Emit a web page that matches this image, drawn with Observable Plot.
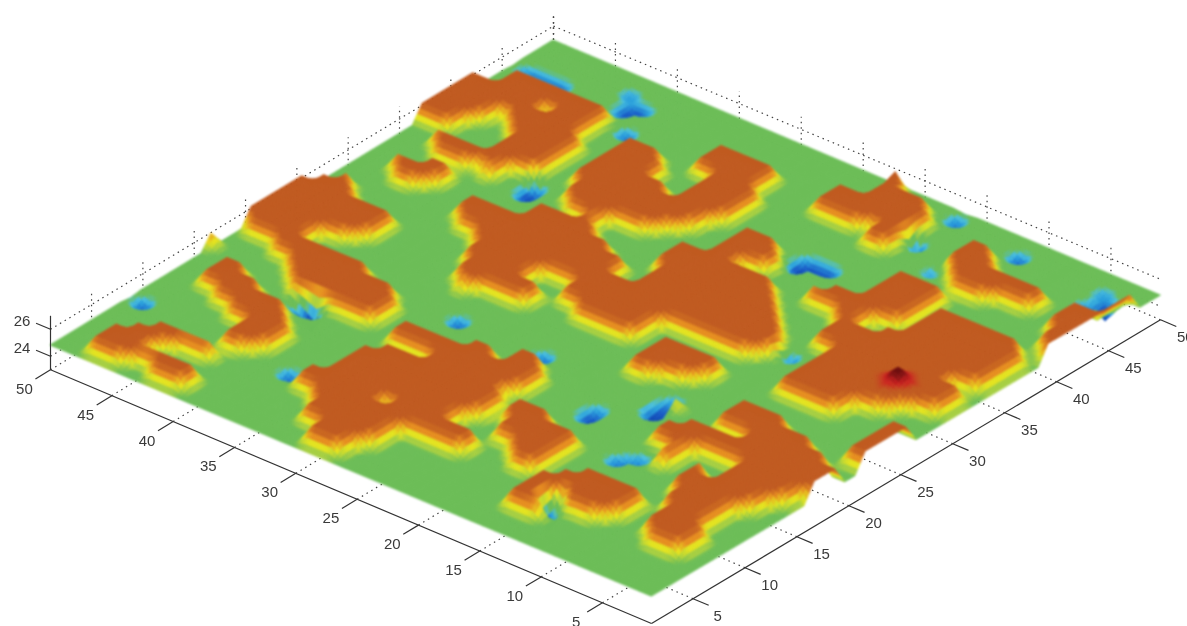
<!DOCTYPE html>
<html><head><meta charset="utf-8">
<style>html,body{margin:0;padding:0;background:#fff;overflow:hidden}svg{display:block;filter:blur(.5px)}</style>
<script src="https://cdn.jsdelivr.net/npm/d3@7"></script>
<script src="https://cdn.jsdelivr.net/npm/@observablehq/plot@0.6"></script>
</head><body><div id="chart"></div>
<script>
// surface heights: index = row u, ranges of columns v at plateau level
const plateauRows = [
"16-18 21-25 39-47","14-18 21-25 29-31 33-37 40-44","5-7 12-19 29-31 33-38 42-44","5-19 28-38","5-20 27-38",
"6-20 27-38 43-44","9-12 16-20 25-38 43-44","11-13 16-21 25-38 43-44","6-8 16-17 19-21 25-38 42-44","5-8 16-17 19-21 25-34 42-44",
"5-8 13-17 19-21 25-33 36-40 42-45","5-8 15-17 31-33 36-40 43-46","3 6-8 15-16 31-40 44-46","3-7 34-40","3-6 28-29 35-36",
"23-24 27-30 35-36","7-11 22-24 27-31 35","7-11 22-24 27-32 43-47","8-11 21-24 27-33 43-48","9-12 21-24 27-34 45-48",
"9-12 27-34 44-48","6-7 11-12 27-34 36-37 44-48","6-7 24-34 36-38 44-46","6-7 10-12 14-16 24-38 44-46","6-17 24-38",
"6-17 24-34","3-15 24-28 32-34","1-16 25-28 39-42","1-6 8-16 25-30 37-45","1-15 27-30 36-45",
"3-12 14-15 23-24 27-31 35-45","3-12 14-15 23-24 27-31 35-38 43-45","5-12 14-15 23-32 35-39 43-45","6-11 14-15 23-39","6-7 22-32 34-41",
"23-32 34-42","15-17 25-32 35-42","15-18 27-30 37-42","15-18 28-30","8-10 15-18 28-30",
"1-2 7-11 15-19 29-30 36-40","1-2 5 7-12 15-19 36-44","1-2 5 10-12 15-19 34-44","2 5 10-12 16-19 23-25 35-44","2 4-5 11-13 17-19 22-25 31-32 34-35 39-41 43-44",
"1-5 11-13 18-19 22-25 30-32 34-35 40-44","1-4 12-14 18-25 30-31 34-35 41-44","1-3 12-14 19-26 31 35 39-44","19-27 37-44","19-26 37-42","20-25 37-42"];
const groundLevel = 24.8, plateauLevel = 26.1;
// [u, v, depth]
const pits = [[49,8,1.1],[40,14,1.7],[41,14,.8],[36,7,1.1],[32,19,1.1],[25,19,1.1],[15,18,1.4],[15,19,1.1],[15,20,.8],[18,15,1],[18,16,1],
[13,12,1],[12,13,.9],[12,4,1.4],[12,5,.8],[39,34,1.1],[39,35,1],[13,29,1],[20,38,1.1],[20,39,1],[19,39,.9],[18,39,1],
[16,45,1.1],[16,49,1],[10,48,1.1],[13,43,.7],[39,44,1],[42,48,.8],[41,47,.9],[41,46,.9],[40,47,.8],[49,46,.8],[48,46,.8],[47,46,.8],[46,46,.9],[2,47,1.3],[3,46,.8],[3,48,.8]];
// [u, v, level]
const peaks = [[4,29,27.2],[21,49,26.5],[50,16,25.9],[14,19,25.6]];
const xTicks = [5,10,15,20,25,30,35,40,45,50];
const yTicks = [5,10,15,20,25,30,35,40,45,50];
const zTicks = [24,26];
const gridLevels = [24,26];
const colorLevels = [23.7,24.1,24.32,24.5,24.62,24.86,25.05,25.3,25.62,25.92,26.15,26.45,26.95];
const colorValues = ["#06309a","#1a5ec8","#2aa0dc","#4cc0dc","#6cbd57","#6cbd57","#a6cf42","#e6e41e","#e68c20","#c05a20","#c05a20","#cc2020","#4a0808"];

const N = 50;
const cl=i=>Math.max(0,Math.min(N,i));
const Z = d3.range(N+1).map(()=>new Array(N+1).fill(groundLevel));
plateauRows.forEach((row,u)=>row.split(" ").forEach(r=>{
  const [a,b] = r.split("-").map(Number);
  for(let v=a;v<=(b===undefined?a:b);v++) Z[u][v]=plateauLevel;
}));
const around=[[1,0],[-1,0],[0,1],[0,-1]];
pits.forEach(([u,v,d])=>around.forEach(([a,b])=>{if(Z[cl(u+a)][cl(v+b)]===groundLevel)Z[cl(u+a)][cl(v+b)]=groundLevel-d*.1}));
peaks.slice(0,1).forEach(([u,v,l])=>around.forEach(([a,b])=>{Z[cl(u+a)][cl(v+b)]+=(l-plateauLevel)*.25}));
pits.forEach(([u,v,d])=>{Z[u][v]=groundLevel-d});
peaks.forEach(([u,v,l])=>{Z[u][v]=l});

// oblique view of the box: corners of the ground level
const B=[651,596],L=[50,345],R=[1160,295],T=[553,40];
function P(u,v,z){
  const a=u/N,b=v/N;
  const x=B[0]*(1-a)*(1-b)+L[0]*a*(1-b)+R[0]*(1-a)*b+T[0]*a*b;
  const y=B[1]*(1-a)*(1-b)+L[1]*a*(1-b)+R[1]*(1-a)*b+T[1]*a*b;
  const k=15-0.03*(u+v);
  return [x,y-(z-groundLevel)*k];
}
const zAt=(u,v)=>{
  u=Math.max(0,Math.min(N,u));v=Math.max(0,Math.min(N,v));
  const i=Math.min(Math.floor(u),N-1),j=Math.min(Math.floor(v),N-1),a=u-i,b=v-j;
  return Z[i][j]*(1-a)*(1-b)+Z[i+1][j]*a*(1-b)+Z[i][j+1]*(1-a)*b+Z[i+1][j+1]*a*b;
};
const soft=(u,v)=>{const s=.35;return (2*zAt(u,v)+zAt(u+s,v)+zAt(u-s,v)+zAt(u,v+s)+zAt(u,v-s)+zAt(u+s,v+s)+zAt(u-s,v-s)+zAt(u+s,v-s)+zAt(u-s,v+s))/10};
const isFlat=(i,j)=>{for(let a=-1;a<=2;a++)for(let b=-1;b<=2;b++)if(Z[cl(i+a)][cl(j+b)]!==groundLevel)return false;return true};
const quads=[];let id=0;
for(let i=N-1;i>=0;i--)for(let j=N-1;j>=0;j--){
  const n=isFlat(i,j)?1:4;
  for(let a=n-1;a>=0;a--)for(let b=n-1;b>=0;b--){
    const u0=i+a/n,u1=i+(a+1)/n,v0=j+b/n,v1=j+(b+1)/n;
    const p=P(u0,v0,zAt(u0,v0)),q=P(u1,v0,zAt(u1,v0)),r=P(u1,v1,zAt(u1,v1)),s=P(u0,v1,zAt(u0,v1));
    const c=soft((u0+u1)/2,(v0+v1)/2);id++;
    quads.push({id,c,x1:p[0],y1:p[1],x2:s[0],y2:s[1]},{id,c,x1:q[0],y1:q[1],x2:r[0],y2:r[1]});
  }
}
const seg=(a,b)=>({a:P(...a),b:P(...b)});
const tk=t=>(t-1)*N/49;
const floorZ=23,topZ=27;
const gridSegs=[];
xTicks.forEach(t=>{gridSegs.push(seg([tk(t),0,floorZ],[tk(t),N,floorZ]));gridSegs.push(seg([tk(t),N,floorZ],[tk(t),N,topZ]))});
yTicks.forEach(t=>{gridSegs.push(seg([0,tk(t),floorZ],[N,tk(t),floorZ]));gridSegs.push(seg([N,tk(t),floorZ],[N,tk(t),topZ]))});
gridLevels.forEach(z=>{gridSegs.push(seg([N,0,z],[N,N,z]));gridSegs.push(seg([N,N,z],[0,N,z]))});
gridSegs.push(seg([N,N,floorZ],[N,N,topZ]));
const axisSegs=[seg([0,0,floorZ],[N,0,floorZ]),seg([0,0,floorZ],[0,N,floorZ]),seg([N,0,floorZ],[N,0,topZ])];
xTicks.forEach(t=>axisSegs.push(seg([tk(t),0,floorZ],[tk(t),-1.5,floorZ])));
yTicks.forEach(t=>axisSegs.push(seg([0,tk(t),floorZ],[-1.3,tk(t),floorZ])));
zTicks.forEach(z=>axisSegs.push(seg([N,0,z],[N+1.2,0,z])));
const labelFont={fontFamily:"Liberation Sans, Arial, sans-serif",fontSize:15,fill:"#3a3a3a"};
const link=(data,o)=>Plot.link(data,{x1:d=>d.a[0],y1:d=>d.a[1],x2:d=>d.b[0],y2:d=>d.b[1],...o});
const chart=Plot.plot({
  width:1187,height:626,margin:0,
  x:{domain:[0,1187],range:[0,1187],axis:null},
  y:{domain:[0,626],range:[0,626],axis:null},
  color:{type:"linear",domain:colorLevels,range:colorValues,clamp:true},
  marks:[
    link(gridSegs,{stroke:"#444",strokeWidth:1.2,strokeDasharray:"1.5,4"}),
    Plot.area(quads,{x1:"x1",y1:"y1",x2:"x2",y2:"y2",z:"id",fill:"c",stroke:"c",strokeWidth:1,imageFilter:"blur(1.1px)"}),
    link(axisSegs,{stroke:"#333",strokeWidth:1.2}),
    Plot.text(xTicks,{x:t=>P(tk(t),-1.5,floorZ)[0],y:t=>P(tk(t),-1.5,floorZ)[1],text:d=>String(d),dx:-11,dy:10,...labelFont}),
    Plot.text(yTicks,{x:t=>P(-1.3,tk(t),floorZ)[0],y:t=>P(-1.3,tk(t),floorZ)[1],text:d=>String(d),dx:9,dy:11,...labelFont}),
    Plot.text(zTicks,{x:z=>P(N+1.2,0,z)[0],y:z=>P(N+1.2,0,z)[1],text:d=>String(d),dx:-14,dy:-2,...labelFont})
  ]
});
document.getElementById("chart").appendChild(chart);
</script></body></html>
